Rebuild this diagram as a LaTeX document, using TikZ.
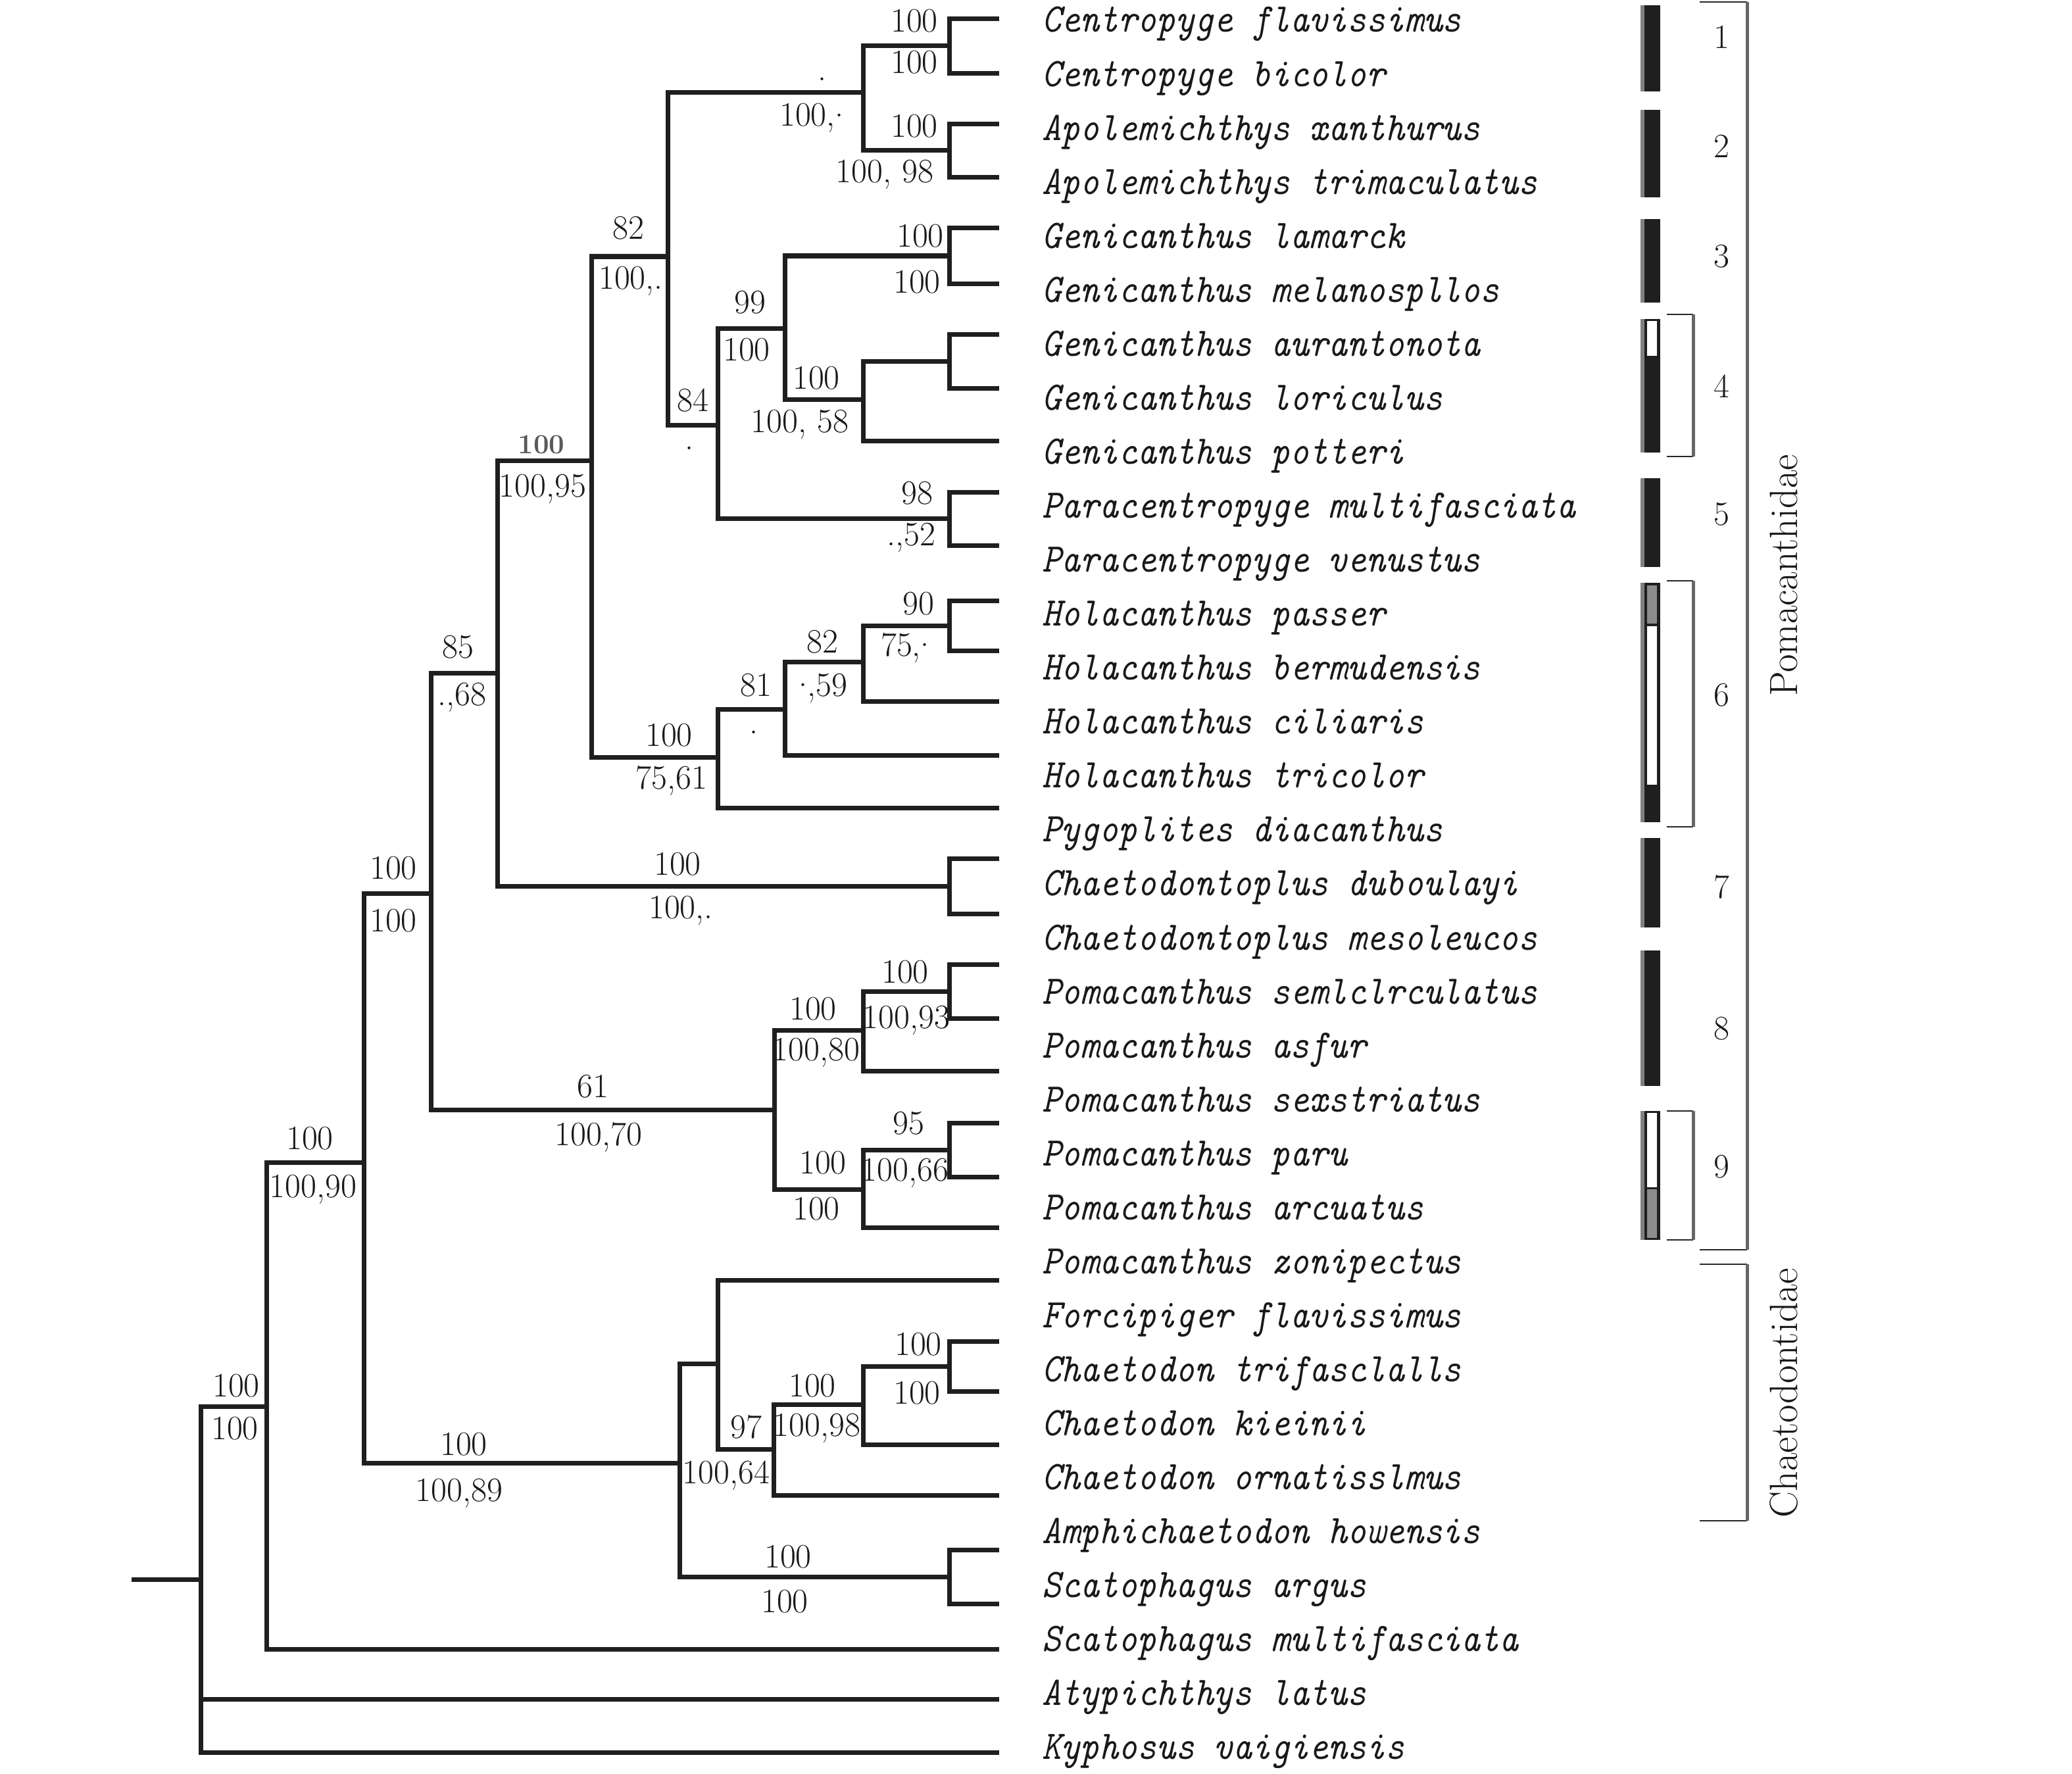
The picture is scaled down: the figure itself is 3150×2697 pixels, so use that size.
\documentclass[tikz,border=0pt]{standalone}
\usepackage{fontspec}
\usepackage{graphicx}
\newcommand\leaffont{\fontsize{27.6}{30}\selectfont\ttfamily\itshape}
\newcommand\numfont{\fontsize{26}{28}\selectfont\rmfamily}
\newcommand\famfont{\fontsize{30}{32}\selectfont\rmfamily}
\newcommand\rdot{\raisebox{0.28em}{.}}
\newcommand\lftxt[1]{\scalebox{1}[1.12]{#1}}
\begin{document}
\begin{tikzpicture}[x=0.5pt,y=-0.5pt,
  br/.style={line width=3.5pt,draw=black!88,line join=miter},
  lf/.style={anchor=base west,inner sep=0pt,font=\leaffont,text=black!90},
  bs/.style={anchor=base,inner sep=0pt,font=\numfont,text=black!90},
  gn/.style={anchor=base,inner sep=0pt,font=\numfont,text=black!90},
  fam/.style={inner sep=0pt,font=\famfont,text=black!90,rotate=90},
  barfill/.style={fill=black!88},
  baredge/.style={fill=black!50},
  tick/.style={line width=1pt,draw=black!85},
  brk/.style={line width=2.5pt,draw=black!60}]
\useasboundingbox (0,0) rectangle (3150,2697);

% leaf tips
\foreach \yy [count=\i] in {29,112,189,270,347,431,508,590,670,748,829,913,989,1066,1148,1228,1305,1389,1466,1548,1628,1707,1789,1866,1946,2039,2115,2196,2273,2356,2438,2507,2583,2664}
  \coordinate (L\i) at (1519,\yy);

% internal nodes
\coordinate (a1) at (1443,70);
\coordinate (a2) at (1443,229);
\coordinate (a3) at (1312,141);
\coordinate (g1) at (1443,389);
\coordinate (g2) at (1443,549);
\coordinate (g3) at (1312,607);
\coordinate (g4) at (1193,499);
\coordinate (p1) at (1443,788);
\coordinate (n84) at (1091,646);
\coordinate (n82) at (1015,390);
\coordinate (h1) at (1443,951);
\coordinate (h2) at (1312,1006);
\coordinate (h3) at (1193,1078);
\coordinate (h4) at (1091,1151);
\coordinate (nA) at (899,700);
\coordinate (c1) at (1443,1347);
\coordinate (nB) at (756,1023);
\coordinate (q1) at (1443,1507);
\coordinate (q2) at (1312,1566);
\coordinate (q3) at (1443,1748);
\coordinate (q4) at (1312,1808);
\coordinate (q5) at (1177,1687);
\coordinate (n85) at (655,1358);
\coordinate (f1) at (1443,2077);
\coordinate (f2) at (1312,2135);
\coordinate (f3) at (1176,2203);
\coordinate (f4) at (1091,2073);
\coordinate (s1) at (1443,2397);
\coordinate (f5) at (1033,2224);
\coordinate (nC) at (553,1767);
\coordinate (nD) at (405,2138);
\coordinate (root) at (305,2401);
\coordinate (stem) at (200,2401);

% branches
\draw[br] (L1) -| (a1) |- (L2);
\draw[br] (L3) -| (a2) |- (L4);
\draw[br] (a1) -| (a3) |- (a2);
\draw[br] (L5) -| (g1) |- (L6);
\draw[br] (L7) -| (g2) |- (L8);
\draw[br] (g2) -| (g3) |- (L9);
\draw[br] (g1) -| (g4) |- (g3);
\draw[br] (L10) -| (p1) |- (L11);
\draw[br] (g4) -| (n84) |- (p1);
\draw[br] (a3) -| (n82) |- (n84);
\draw[br] (L12) -| (h1) |- (L13);
\draw[br] (h1) -| (h2) |- (L14);
\draw[br] (h2) -| (h3) |- (L15);
\draw[br] (h3) -| (h4) |- (L16);
\draw[br] (n82) -| (nA) |- (h4);
\draw[br] (L17) -| (c1) |- (L18);
\draw[br] (nA) -| (nB) |- (c1);
\draw[br] (L19) -| (q1) |- (L20);
\draw[br] (q1) -| (q2) |- (L21);
\draw[br] (L22) -| (q3) |- (L23);
\draw[br] (q3) -| (q4) |- (L24);
\draw[br] (q2) -| (q5) |- (q4);
\draw[br] (nB) -| (n85) |- (q5);
\draw[br] (L26) -| (f1) |- (L27);
\draw[br] (f1) -| (f2) |- (L28);
\draw[br] (f2) -| (f3) |- (L29);
\draw[br] (L25) -| (f4) |- (f3);
\draw[br] (L30) -| (s1) |- (L31);
\draw[br] (f4) -| (f5) |- (s1);
\draw[br] (n85) -| (nC) |- (f5);
\draw[br] (nC) -| (nD) |- (L32);
\draw[br] (nD) -| (root) |- (L34);
\draw[br] (root) |- (L33);
\draw[br] (stem) -- (root);

% support values
\foreach \xx/\yy/\tt [count=\k] in {1390/32/100, 1390/95/100, 1234/175/{100,\rdot}, 1390/192/100, 1345/261/{100, 98}, 955/347/82, 959/422/{100,.}, 1399/359/100, 1394/428/100, 1140/459/99, 1135/531/100, 1241/574/100, 1216/640/{100, 58}, 1053/608/84, 825/738/{100,95}, 1394/749/98, 1385/812/{.,52}, 1396/917/90, 1376/980/{75,\rdot}, 1250/975/82, 1251/1041/{\rdot,59}, 1149/1041/81, 1017/1117/100, 1021/1182/{75,61}, 696/983/85, 702/1055/{.,68}, 1030/1313/100, 1035/1379/{100,.}, 598/1319/100, 598/1399/100, 1376/1477/100, 1378/1546/{100,93}, 1236/1533/100, 1241/1595/{100,80}, 901/1651/61, 910/1724/{100,70}, 1381/1707/95, 1251/1767/100, 1376/1778/{100,66}, 1241/1837/100, 471/1730/100, 476/1803/{100,90}, 1396/2043/100, 1394/2117/100, 1235/2106/100, 1242/2166/{100,98}, 1134/2169/97, 1104/2238/{100,64}, 705/2195/100, 698/2265/{100,89}, 1198/2366/100, 1193/2434/100, 359/2106/100, 357/2171/100}
  \node[bs] (bs\k) at (\xx,{\yy+17}) {\tt};
\node[bs] (dot1) at (1250,123) {.};
\node[bs] (dot2) at (1048,683) {.};
\node[bs] (dot3) at (1146,1115) {.};
\node[bs,font=\fontsize{21}{22}\selectfont\bfseries,text=black!65] (g100) at (823,689) {100};

% leaf names
\foreach \nm [count=\i from 0] in {Centropyge flavissimus, Centropyge bicolor, Apolemichthys xanthurus, Apolemichthys trimaculatus, Genicanthus lamarck, Genicanthus melanospllos, Genicanthus aurantonota, Genicanthus loriculus, Genicanthus potteri, Paracentropyge multifasciata, Paracentropyge venustus, Holacanthus passer, Holacanthus bermudensis, Holacanthus ciliaris, Holacanthus tricolor, Pygoplites diacanthus, Chaetodontoplus duboulayi, Chaetodontoplus mesoleucos, Pomacanthus semlclrculatus, Pomacanthus asfur, Pomacanthus sexstriatus, Pomacanthus paru, Pomacanthus arcuatus, Pomacanthus zonipectus, Forcipiger flavissimus, Chaetodon trifasclalls, Chaetodon kieinii, Chaetodon ornatisslmus, Amphichaetodon howensis, Scatophagus argus, Scatophagus multifasciata, Atypichthys latus, Kyphosus vaigiensis}
  \node[lf] (lab\i) at (1584,{30+82.06*\i+19}) {\lftxt{\nm}};

% character bars
\foreach \ya/\yb in {8/139,167/300,333/460,485/688,727/862,886/1250,1274/1410,1445/1651,1689/1885}{
  \fill[baredge] (2494,\ya) rectangle (2501,\yb);
  \fill[barfill] (2500,\ya) rectangle (2524,\yb);
}
\fill[white] (2504,488) rectangle (2519,541);
\fill[black!45] (2504,890) rectangle (2519,948);
\fill[white] (2504,952) rectangle (2519,1193);
\fill[white] (2504,1692) rectangle (2519,1805);
\fill[black!45] (2504,1808) rectangle (2519,1882);

% small brackets
\foreach \ya/\yb in {478/694,883/1257,1689/1885}{
  \draw[tick] (2534,\ya) -- (2574,\ya);
  \draw[tick] (2534,\yb) -- (2574,\yb);
  \draw[brk] (2574,\ya) -- (2574,\yb);
}

% clade numbers
\foreach \yy [count=\i] in {57,223,390,587,781,1056,1348,1563,1773}
  \node[gn] (grp\i) at (2617,{\yy+17}) {\i};

% family brackets
\draw[tick] (2584,3) -- (2656,3);
\draw[tick] (2584,1900) -- (2656,1900);
\draw[brk] (2656,3) -- (2656,1900);
\draw[tick] (2584,1922) -- (2656,1922);
\draw[tick] (2584,2312) -- (2656,2312);
\draw[brk] (2656,1922) -- (2656,2312);
\node[fam] (pom) at (2712,875) {Pomacanthidae};
\node[fam] (cha) at (2712,2118) {Chaetodontidae};
\end{tikzpicture}
\end{document}
